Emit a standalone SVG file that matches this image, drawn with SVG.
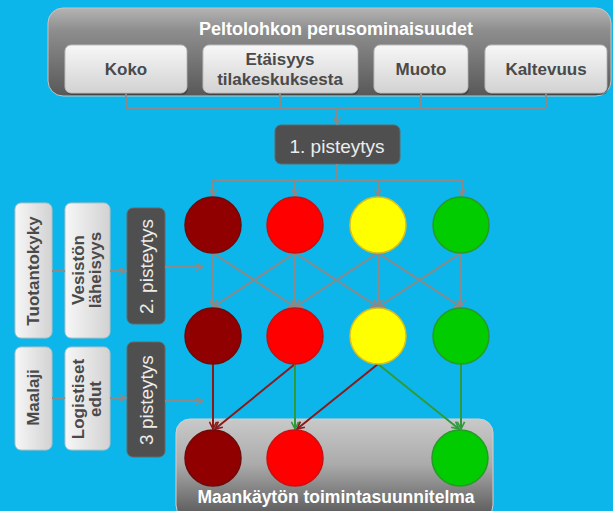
<svg xmlns="http://www.w3.org/2000/svg" width="613" height="511" viewBox="0 0 613 511">
<defs>
<linearGradient id="gTop" x1="0" y1="0" x2="0" y2="1">
<stop offset="0" stop-color="#b4b4b4"/><stop offset="0.25" stop-color="#8e8e8e"/><stop offset="1" stop-color="#585858"/>
</linearGradient>
<linearGradient id="gBox" x1="0" y1="0" x2="0" y2="1">
<stop offset="0" stop-color="#f7f7f7"/><stop offset="1" stop-color="#d2d2d2"/>
</linearGradient>
<linearGradient id="gBoxV" x1="0" y1="0" x2="1" y2="0">
<stop offset="0" stop-color="#f7f7f7"/><stop offset="1" stop-color="#d2d2d2"/>
</linearGradient>
<linearGradient id="gBottom" x1="0" y1="0" x2="0" y2="1">
<stop offset="0" stop-color="#c9c9c9"/><stop offset="0.45" stop-color="#ababab"/><stop offset="1" stop-color="#555555"/>
</linearGradient>
<marker id="aGray" viewBox="0 0 10 10" refX="9" refY="5" markerWidth="9" markerHeight="9" markerUnits="userSpaceOnUse" orient="auto">
<path d="M1,1 L9,5 L1,9" fill="none" stroke="#8a8a8a" stroke-width="1.8"/>
</marker>
<marker id="aRed" viewBox="0 0 10 10" refX="9" refY="5" markerWidth="9" markerHeight="9" markerUnits="userSpaceOnUse" orient="auto">
<path d="M1,1 L9,5 L1,9" fill="none" stroke="#8b1a1a" stroke-width="1.8"/>
</marker>
<marker id="aGreen" viewBox="0 0 10 10" refX="9" refY="5" markerWidth="9" markerHeight="9" markerUnits="userSpaceOnUse" orient="auto">
<path d="M1,1 L9,5 L1,9" fill="none" stroke="#2f9a3a" stroke-width="1.8"/>
</marker>
</defs>
<style>
.lbl{font-family:"Liberation Sans",Arial,sans-serif;font-weight:bold;font-size:17px;fill:#4a4a4a;text-anchor:middle}
.wt{font-family:"Liberation Sans",Arial,sans-serif;font-weight:bold;fill:#ffffff;text-anchor:middle}
.dk{font-family:"Liberation Sans",Arial,sans-serif;font-size:19px;fill:#ececec;text-anchor:middle}
.box{fill:url(#gBox);stroke:#bdbdbd;stroke-width:1}
.boxv{fill:url(#gBoxV);stroke:#bdbdbd;stroke-width:1}
.dark{fill:#4f4f4f;stroke:#666;stroke-width:1}
.shadow{fill:#000;opacity:0.25}
.g{fill:none;stroke:#8a8a8a;stroke-width:2}
.r{fill:none;stroke:#8b1a1a;stroke-width:2}
.gr{fill:none;stroke:#2f9a3a;stroke-width:2}
.c1{fill:#900000;stroke:#6e0a0a;stroke-width:1.5}
.c2{fill:#ff0000;stroke:#c81010;stroke-width:1.5}
.c3{fill:#ffff00;stroke:#d8c020;stroke-width:1.5}
.c4{fill:#00cc00;stroke:#269a26;stroke-width:1.5}
</style>
<rect width="613" height="511" fill="#0db6ea"/>

<g id="top-container">
<rect x="48" y="8" width="563" height="88" rx="15" fill="url(#gTop)" stroke="#c4c4c4" stroke-width="1"/>
<text class="wt" x="336" y="35" font-size="18">Peltolohkon perusominaisuudet</text>
</g>
<g id="koko">
<rect class="shadow" x="66" y="47" width="122" height="48" rx="6"/>
<rect class="box" x="65" y="45" width="122" height="48" rx="6"/>
<text class="lbl" x="126" y="75">Koko</text>
</g>
<g id="etaisyys">
<rect class="shadow" x="204" y="47" width="155" height="48" rx="6"/>
<rect class="box" x="203" y="45" width="155" height="48" rx="6"/>
<text class="lbl" x="280" y="65">Etäisyys</text>
<text class="lbl" x="280" y="85">tilakeskuksesta</text>
</g>
<g id="muoto">
<rect class="shadow" x="375" y="47" width="94" height="48" rx="6"/>
<rect class="box" x="374" y="45" width="94" height="48" rx="6"/>
<text class="lbl" x="421" y="75">Muoto</text>
</g>
<g id="kaltevuus">
<rect class="shadow" x="486" y="47" width="122" height="48" rx="6"/>
<rect class="box" x="485" y="45" width="122" height="48" rx="6"/>
<text class="lbl" x="546" y="75">Kaltevuus</text>
</g>

<g id="pisteytys1">
<rect class="dark" x="275" y="125" width="125" height="39" rx="6"/>
<text class="dk" x="337" y="153">1. pisteytys</text>
</g>

<g id="tuotantokyky">
<rect class="boxv" x="15" y="203" width="37" height="135" rx="6"/>
<text class="lbl" x="33.5" y="276.5" transform="rotate(-90 33.5 271)">Tuotantokyky</text>
</g>
<g id="vesisto">
<rect class="boxv" x="65" y="203" width="45" height="135" rx="6"/>
<text class="lbl" transform="rotate(-90 87.5 270)"><tspan x="87.5" y="266.5">Vesistön</tspan><tspan x="87.5" y="283.5">läheisyys</tspan></text>
</g>
<g id="pisteytys2">
<rect class="dark" x="127" y="208" width="38" height="116" rx="6"/>
<text class="dk" x="146" y="273" transform="rotate(-90 146 266.5)">2. pisteytys</text>
</g>
<g id="maalaji">
<rect class="boxv" x="15" y="347" width="37" height="103" rx="6"/>
<text class="lbl" x="33.5" y="403" transform="rotate(-90 33.5 397.5)">Maalaji</text>
</g>
<g id="logistiset">
<rect class="boxv" x="65" y="347" width="45" height="103" rx="6"/>
<text class="lbl" transform="rotate(-90 87.5 399)"><tspan x="87.5" y="395.5">Logistiset</tspan><tspan x="87.5" y="412.5">edut</tspan></text>
</g>
<g id="pisteytys3">
<rect class="dark" x="127" y="342" width="38" height="115" rx="6"/>
<text class="dk" x="146" y="406.5" transform="rotate(-90 146 400)">3 pisteytys</text>
</g>

<g id="bottom-container">
<rect x="176" y="419" width="317" height="100" rx="14" fill="url(#gBottom)" stroke="#d0d0d0" stroke-width="1"/>
<text class="wt" x="336" y="503" font-size="17.5">Maankäytön toimintasuunnitelma</text>
</g>

<g id="connectors">
<path class="g" d="M126,93 V108 M280,93 V108 M421,93 V108 M546,93 V108 M126,108 H546"/>
<path class="g" d="M337,108 V124" marker-end="url(#aGray)"/>
<path class="g" d="M337,164 V180 M213,180 H462"/>
<path class="g" d="M213,180 V196" marker-end="url(#aGray)"/>
<path class="g" d="M295,180 V196" marker-end="url(#aGray)"/>
<path class="g" d="M378,180 V196" marker-end="url(#aGray)"/>
<path class="g" d="M462,180 V196" marker-end="url(#aGray)"/>
<path class="g" d="M52,271 H65"/>
<path class="g" d="M110,271 H126" marker-end="url(#aGray)"/>
<path class="g" d="M165,267 H203" marker-end="url(#aGray)"/>
<path class="g" d="M52,398 H65"/>
<path class="g" d="M110,398 H126" marker-end="url(#aGray)"/>
<path class="g" d="M165,401 H203" marker-end="url(#aGray)"/>
<path class="g" d="M213,253 L213,307" marker-end="url(#aGray)"/>
<path class="g" d="M213,253 L295,307" marker-end="url(#aGray)"/>
<path class="g" d="M295,253 L213,307" marker-end="url(#aGray)"/>
<path class="g" d="M295,253 L295,307" marker-end="url(#aGray)"/>
<path class="g" d="M295,253 L378,307" marker-end="url(#aGray)"/>
<path class="g" d="M378,253 L295,307" marker-end="url(#aGray)"/>
<path class="g" d="M378,253 L378,307" marker-end="url(#aGray)"/>
<path class="g" d="M378,253 L461,307" marker-end="url(#aGray)"/>
<path class="g" d="M461,253 L378,307" marker-end="url(#aGray)"/>
<path class="g" d="M461,253 L461,307" marker-end="url(#aGray)"/>
<path class="r" d="M213,364 L213,429" marker-end="url(#aRed)"/>
<path class="r" d="M295,364 L215,429" marker-end="url(#aRed)"/>
<path class="gr" d="M295,364 L295,429" marker-end="url(#aGreen)"/>
<path class="r" d="M378,364 L297,429" marker-end="url(#aRed)"/>
<path class="gr" d="M378,364 L459,429" marker-end="url(#aGreen)"/>
<path class="gr" d="M461,364 L461,429" marker-end="url(#aGreen)"/>
</g>

<g id="row1">
<circle class="c1" cx="213" cy="225" r="28"/>
<circle class="c2" cx="295" cy="225" r="28"/>
<circle class="c3" cx="378" cy="225" r="28"/>
<circle class="c4" cx="461" cy="225" r="28"/>
</g>
<g id="row2">
<circle class="c1" cx="213" cy="336" r="28"/>
<circle class="c2" cx="295" cy="336" r="28"/>
<circle class="c3" cx="378" cy="336" r="28"/>
<circle class="c4" cx="461" cy="336" r="28"/>
</g>
<g id="row3">
<circle class="c1" cx="213" cy="458" r="28"/>
<circle class="c2" cx="295" cy="458" r="28"/>
<circle class="c4" cx="460" cy="458" r="28"/>
</g>
</svg>
